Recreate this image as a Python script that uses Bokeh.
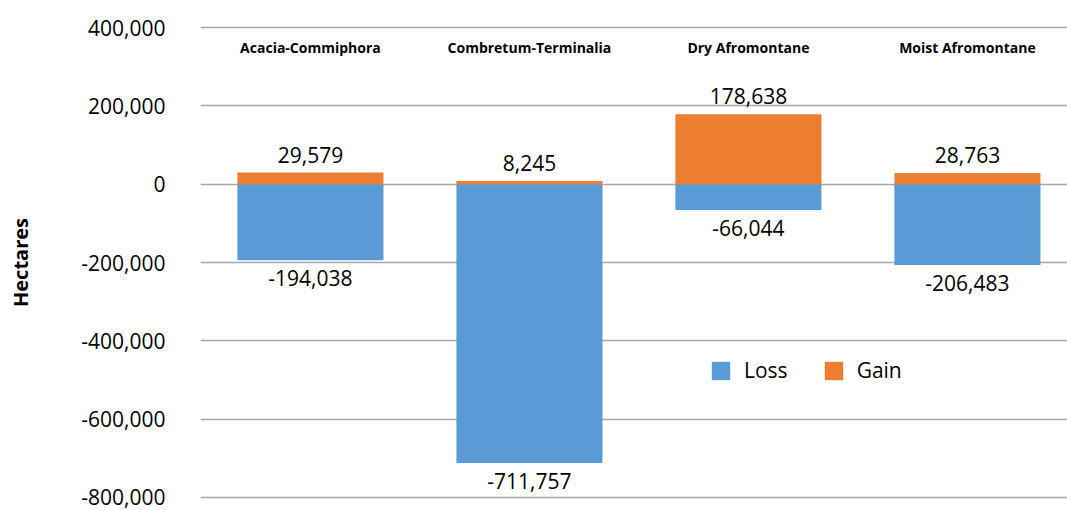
from bokeh.plotting import figure
from bokeh.models import ColumnDataSource, Range1d, FixedTicker, NumeralTickFormatter, Legend, LegendItem
from bokeh.core.properties import value
from bokeh.embed import file_html
from bokeh.resources import INLINE

categories = ["Acacia-Commiphora", "Combretum-Terminalia", "Dry Afromontane", "Moist Afromontane"]
loss = [-194038, -711757, -66044, -206483]
gain = [29579, 8245, 178638, 28763]
y_ticks = [-800000, -600000, -400000, -200000, 0, 200000, 400000]

FONT = "Open Sans"
BLUE = "#5b9bd5"
ORANGE = "#ed7d31"

x = list(range(len(categories)))
src = ColumnDataSource(dict(
    x=x, cat=categories, loss=loss, gain=gain,
    loss_lbl=[f"{v:,}" for v in loss],
    gain_lbl=[f"{v:,}" for v in gain],
    top_y=[y_ticks[-1] * 0.87] * len(categories),
))

pad = 5200  # small extra room so the end grid lines are not clipped
p = figure(width=1067, height=510, output_backend="svg", toolbar_location=None,
           x_range=Range1d(-0.502, 3.457), y_range=Range1d(y_ticks[0] - pad, y_ticks[-1] + pad),
           min_border_left=200, min_border_right=0, min_border_top=25, min_border_bottom=11)
p.outline_line_color = None
p.background_fill_color = "white"
p.border_fill_color = "white"

p.xaxis.visible = False
p.xgrid.visible = False
p.yaxis.ticker = FixedTicker(ticks=y_ticks)
p.yaxis.formatter = NumeralTickFormatter(format="0,0")
p.yaxis.axis_line_color = None
p.yaxis.major_tick_line_color = None
p.yaxis.minor_tick_line_color = None
p.yaxis.major_label_text_font = FONT
p.yaxis.major_label_text_font_size = "21px"
p.yaxis.major_label_text_color = "#000000"
p.yaxis.major_label_standoff = 29
p.yaxis.axis_label = "Hectares"
p.yaxis.axis_label_text_font = FONT
p.yaxis.axis_label_text_font_size = "20px"
p.yaxis.axis_label_text_font_style = "bold"
p.yaxis.axis_label_text_color = "#000000"
p.yaxis.axis_label_standoff = 44
p.ygrid.ticker = FixedTicker(ticks=y_ticks)
p.ygrid.grid_line_color = "#a6a6a6"
p.ygrid.grid_line_width = 1.5

w = 0.667
r_loss = p.vbar(x="x", top="loss", bottom=0, width=w, source=src, fill_color=BLUE, line_color=None)
r_gain = p.vbar(x="x", top="gain", bottom=0, width=w, source=src, fill_color=ORANGE, line_color=None)

p.text(x="x", y="gain", text="gain_lbl", source=src, text_font=value(FONT), text_font_size="21px",
       text_align="center", text_baseline="bottom", y_offset=-10, text_color="#000000")
p.text(x="x", y="loss", text="loss_lbl", source=src, text_font=value(FONT), text_font_size="21px",
       text_align="center", text_baseline="top", y_offset=10, text_color="#000000")
p.text(x="x", y="top_y", text="cat", source=src, text_font=value(FONT), text_font_size="14px",
       text_font_style="bold", text_align="center", text_baseline="middle", text_color="#000000")

legend = Legend(items=[LegendItem(label="Loss", renderers=[r_loss]),
                       LegendItem(label="Gain", renderers=[r_gain])],
                orientation="horizontal", location=(509, 115),
                glyph_width=23, glyph_height=23, label_standoff=12, spacing=34,
                padding=0, margin=0, border_line_color=None, background_fill_alpha=0,
                label_text_font=FONT, label_text_font_size="21px", label_text_color="#000000",
                label_height=23)
p.add_layout(legend, "center")

open("out.html", "w").write(file_html(p, INLINE))
